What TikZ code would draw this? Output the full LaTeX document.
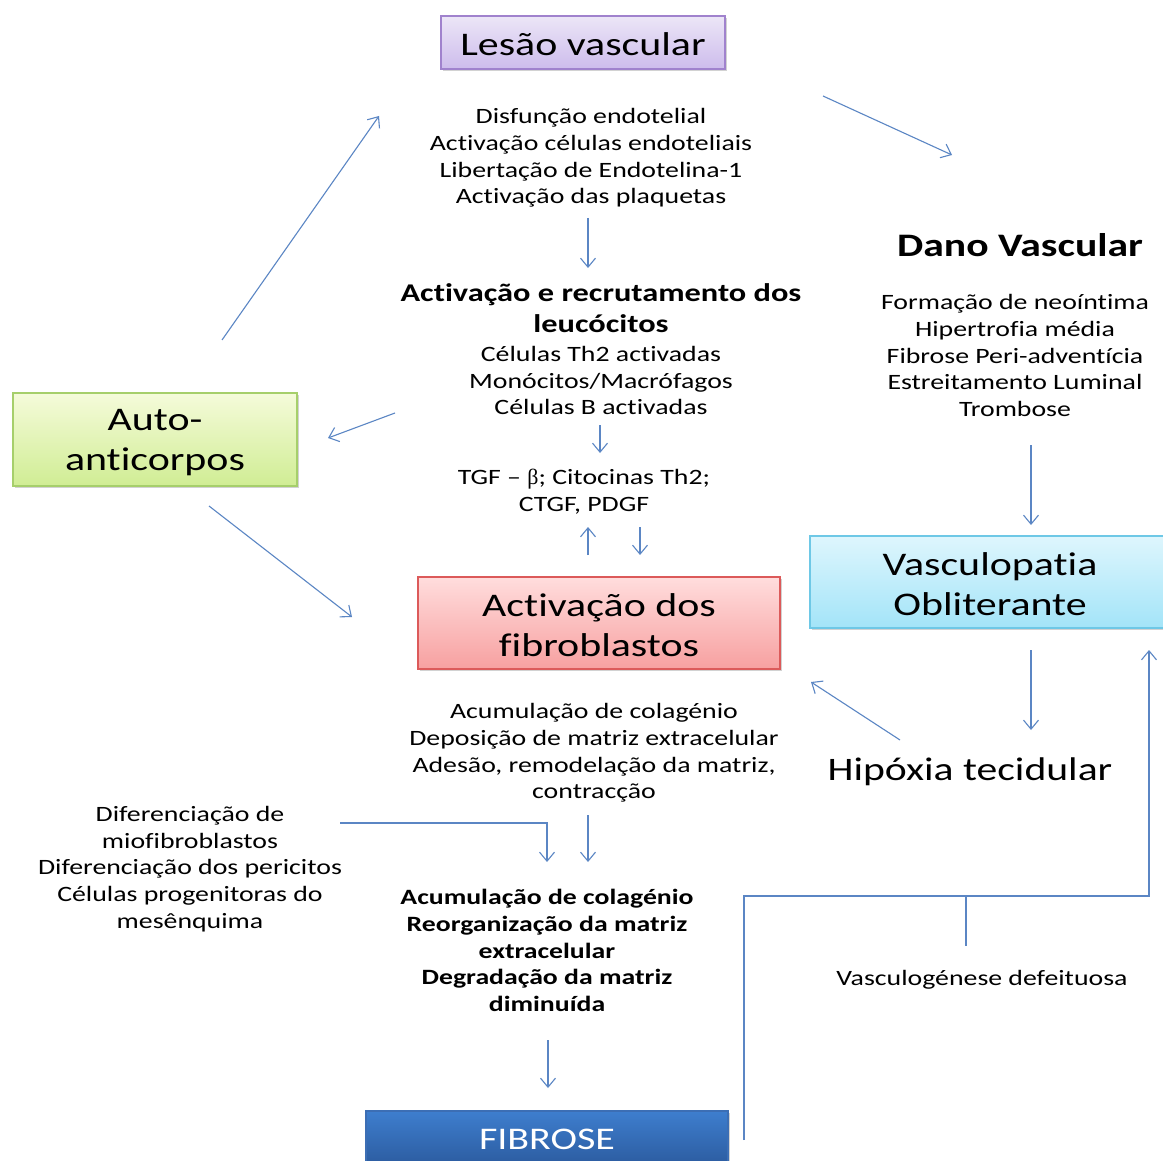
\documentclass[tikz,border=0pt]{standalone}
\usepackage{fontspec}
\setmainfont[FakeStretch=1.27,Ligatures={NoCommon}]{Carlito}
\newfontfamily\symfont{Liberation Serif}
\usetikzlibrary{arrows.meta,shadows}
\definecolor{arr}{HTML}{5B86C4}
\newcommand{\lowr}[2]{\raisebox{-#1pt}[\height][\depth]{#2}}
\tikzset{
  conn/.style={draw=arr, line width=1.1pt, -{Straight Barb[length=9pt,width=15pt,line width=1.1pt]}},
  plainline/.style={draw=arr, line width=1.1pt},
  box/.style={rectangle, minimum height=53pt, line width=1.4pt, inner sep=0pt, align=center,
    font=\fontsize{33}{40}\selectfont, drop shadow={shadow xshift=1.5pt,shadow yshift=-2pt,opacity=0.35}},
  txt/.style={align=center, inner sep=0pt, font=\fontsize{21.9}{26.7}\selectfont},
  btxt/.style={align=center, inner sep=0pt, font=\bfseries\fontsize{21.85}{26.8}\selectfont},
}
\begin{document}
\begin{tikzpicture}[x=1pt,y=-1pt]
\useasboundingbox (0,0) rectangle (1163,1161);
\clip (0,0) rectangle (1163,1161);
\fill[white] (0,0) rectangle (1163,1161);

% boxes
\node[box, minimum width=284pt, minimum height=53pt, draw={rgb,255:red,160;green,130;blue,205},
  top color={rgb,255:red,236;green,230;blue,247}, bottom color={rgb,255:red,205;green,188;blue,236}]
  (lesao) at (583,42.5) {\lowr{1.5}{Lesão vascular}};
\node[box, minimum width=362pt, minimum height=92pt, draw={rgb,255:red,220;green,90;blue,90},
  top color={rgb,255:red,255;green,221;blue,221}, bottom color={rgb,255:red,247;green,160;blue,160}]
  (fibro) at (599,623) {\lowr{2}{Activação dos}\\\lowr{2}{fibroblastos}};
\node[box, minimum width=284pt, minimum height=93pt, draw={rgb,255:red,166;green,207;blue,107},
  top color={rgb,255:red,245;green,251;blue,218}, bottom color={rgb,255:red,208;green,237;blue,148}]
  (auto) at (155,439.5) {\lowr{3}{Auto-}\\\lowr{3}{anticorpos}};
\node[box, minimum width=360pt, minimum height=92pt, draw={rgb,255:red,110;green,200;blue,230},
  top color={rgb,255:red,222;green,246;blue,253}, bottom color={rgb,255:red,163;green,228;blue,248}]
  (vasc) at (990,582) {\lowr{2}{Vasculopatia}\\\lowr{2}{Obliterante}};
\node[box, minimum width=362pt, minimum height=54pt, draw={rgb,255:red,60;green,110;blue,180},
  top color={rgb,255:red,62;green,126;blue,206}, bottom color={rgb,255:red,44;green,92;blue,160},
  text=white, font=\fontsize{31.5}{36}\selectfont]
  (fibrose) at (547,1138) {\lowr{1}{FIBROSE}};

% texts
\node[txt] (t1) at (591,158) {Disfunção endotelial\\Activação células endoteliais\\Libertação de Endotelina-1\\Activação das plaquetas};
\node[btxt, font=\bfseries\fontsize{25.5}{31}\selectfont] (t2) at (601,308) {Activação e recrutamento dos\\leucócitos};
\node[txt] (t3) at (601,380.5) {Células Th2 activadas\\Monócitos/Macrófagos\\Células B activadas};
\node[txt] (t4) at (584,492) {TGF – {\symfont β}; Citocinas Th2;\\CTGF, PDGF};
\node[txt] (t5) at (594,753) {Acumulação de colagénio\\Deposição de matriz extracelular\\Adesão, remodelação da matriz,\\contracção};
\node[txt] (t6) at (190,869) {Diferenciação de\\miofibroblastos\\Diferenciação dos pericitos\\Células progenitoras do\\mesênquima};
\node[btxt] (t7) at (547,950.5) {Acumulação de colagénio\\Reorganização da matriz\\extracelular\\Degradação da matriz\\diminuída};
\node[txt, font=\bfseries\fontsize{32.8}{38}\selectfont] (dano) at (1020,245.5) {Dano Vascular};
\node[txt] (t8) at (1015,355.5) {Formação de neoíntima\\Hipertrofia média\\Fibrose Peri-adventícia\\Estreitamento Luminal\\Trombose};
\node[txt, font=\fontsize{32.8}{38}\selectfont] (hip) at (970,772) {Hipóxia tecidular};
\node[txt] (vdef) at (982,980) {Vasculogénese defeituosa};

% connector coordinates
\coordinate (a1s) at (588,218); \coordinate (a1e) at (588,268);
\coordinate (a2s) at (600,425); \coordinate (a2e) at (600,453);
\coordinate (a3s) at (588,555); \coordinate (a3e) at (588,527);
\coordinate (a4s) at (640,527); \coordinate (a4e) at (640,555);
\coordinate (a5s) at (588,815); \coordinate (a5e) at (588,862);
\coordinate (a6s) at (340,823); \coordinate (a6m) at (547,823); \coordinate (a6e) at (547,862);
\coordinate (a7s) at (548,1040); \coordinate (a7e) at (548,1088);
\coordinate (a8s) at (823,96); \coordinate (a8e) at (952,155);
\coordinate (a9s) at (1031,445); \coordinate (a9e) at (1031,525);
\coordinate (a10s) at (1031,650); \coordinate (a10e) at (1031,730);
\coordinate (a11s) at (900,740); \coordinate (a11e) at (811,682);
\coordinate (a12s) at (395,413); \coordinate (a12e) at (328,438);
\coordinate (a13s) at (209,506); \coordinate (a13e) at (352,617);
\coordinate (a14s) at (222,340); \coordinate (a14e) at (379,116);
\coordinate (f1) at (744,1140); \coordinate (f2) at (744,896); \coordinate (f3) at (1149,896); \coordinate (f4) at (1149,650);
\coordinate (v1) at (966,896); \coordinate (v2) at (966,946);

\draw[conn] (a1s) -- (a1e);
\draw[conn] (a2s) -- (a2e);
\draw[conn] (a3s) -- (a3e);
\draw[conn] (a4s) -- (a4e);
\draw[conn] (a5s) -- (a5e);
\draw[conn] (a6s) -- (a6m) -- (a6e);
\draw[conn] (a7s) -- (a7e);
\draw[conn] (a8s) -- (a8e);
\draw[conn] (a9s) -- (a9e);
\draw[conn] (a10s) -- (a10e);
\draw[conn] (a11s) -- (a11e);
\draw[conn] (a12s) -- (a12e);
\draw[conn] (a13s) -- (a13e);
\draw[conn] (a14s) -- (a14e);
\draw[conn] (f1) -- (f2) -- (f3) -- (f4);
\draw[plainline] (v1) -- (v2);
\end{tikzpicture}
\end{document}
